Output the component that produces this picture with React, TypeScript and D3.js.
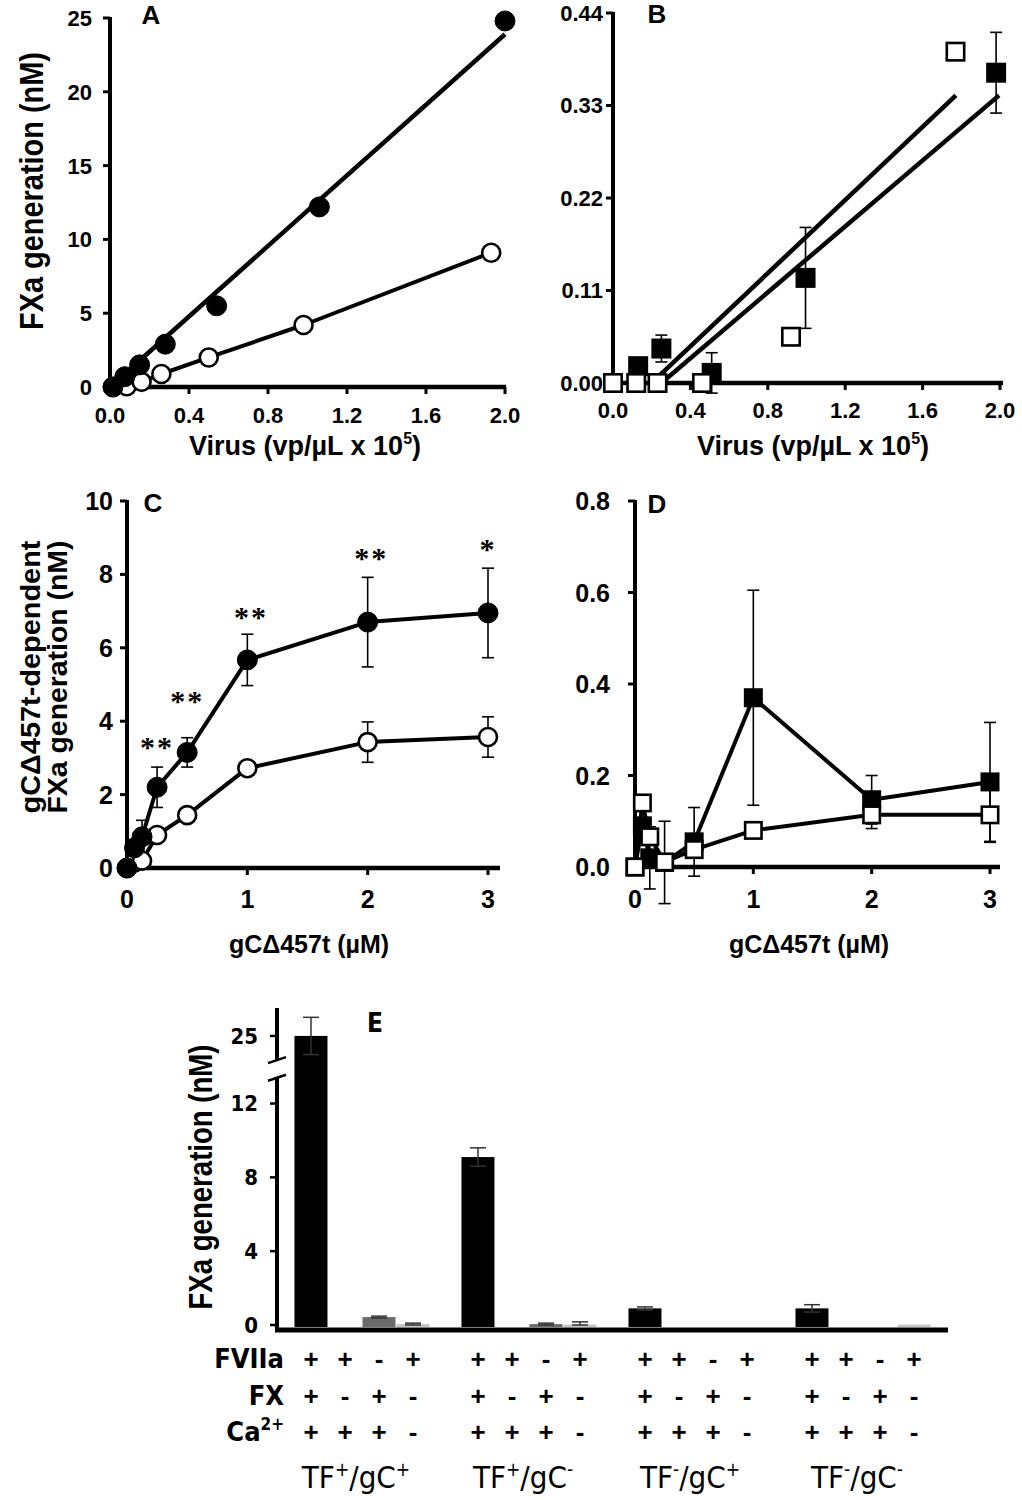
import React from 'react';
import * as d3 from 'd3';

// ---------- Panel A (virus, circles) ----------
const aFilledX = [0.015, 0.075, 0.15, 0.28, 0.54, 1.06, 2.0];
const aFilledY = [0, 0.7, 1.5, 2.9, 5.5, 12.2, 24.8];
const aOpenX = [0.015, 0.085, 0.16, 0.26, 0.5, 0.98, 1.93];
const aOpenY = [0, 0.05, 0.35, 0.88, 2.0, 4.2, 9.1];
const aFitFilled = [0, 2.0, 11.95, 0]; // xStart, xEnd, slope, intercept
const aXTicks = [0, 0.4, 0.8, 1.2, 1.6, 2.0];
const aYTicks = [0, 5, 10, 15, 20, 25];

// ---------- Panel B (virus, squares) ----------
const bFilledX = [0, 0.13, 0.25, 0.51, 0.995, 1.98];
const bFilledY = [0, 0.02, 0.041, 0.012, 0.125, 0.369];
const bFilledErr = [0, 0.004, 0.016, 0.024, 0.06, 0.048];
const bOpenX = [0, 0.12, 0.23, 0.46, 0.92, 1.77];
const bOpenY = [0, 0, 0, 0, 0.055, 0.394];
const bFitOpen = [0.2, 1.772, 0.2176, -0.0435];
const bFitFilled = [0.25, 1.995, 0.196, -0.049];
const bXTicks = [0, 0.4, 0.8, 1.2, 1.6, 2.0];
const bYTicks = [0, 0.11, 0.22, 0.33, 0.44];

// ---------- Panel C (gC, circles) ----------
const cX = [0, 0.0625, 0.125, 0.25, 0.5, 1, 2, 3];
const cFilledY = [0, 0.55, 0.85, 2.2, 3.15, 5.67, 6.7, 6.95];
const cFilledErr = [0, 0, 0.45, 0.55, 0.4, 0.7, 1.22, 1.22];
const cOpenY = [0, 0.15, 0.2, 0.9, 1.44, 2.72, 3.43, 3.57];
const cOpenErr = [0, 0, 0, 0, 0, 0, 0.55, 0.55];
const cStarX = [0.25, 0.5, 1.03, 2.03, 3];
const cStarY = [3.4, 4.65, 6.95, 8.55, 8.8];
const cStarText = ['**', '**', '**', '**', '*'];
const cXTicks = [0, 1, 2, 3];
const cYTicks = [0, 2, 4, 6, 8, 10];

// ---------- Panel D (gC, squares) ----------
const dX = [0, 0.0625, 0.125, 0.25, 0.5, 1, 2, 3];
const dFilledY = [0, 0.09, 0.02, 0.01, 0.055, 0.37, 0.147, 0.186];
const dFilledErr = [0, 0, 0.068, 0.09, 0.075, 0.235, 0.053, 0.13];
const dOpenY = [0, 0.14, 0.066, 0.011, 0.038, 0.08, 0.114, 0.114];
const dOpenErr = [0, 0, 0, 0, 0, 0, 0.03, 0.06];
const dXTicks = [0, 1, 2, 3];
const dYTicks = [0, 0.2, 0.4, 0.6, 0.8];

// ---------- Panel E (bars) ----------
const eGroups = ['TF+/gC+', 'TF+/gC-', 'TF-/gC+', 'TF-/gC-'];
const eTF = ['+', '+', '-', '-'];
const eGC = ['+', '-', '+', '-'];
const eValues = [
  [25, 0, 0.43, 0.05],
  [9.1, 0, 0.05, 0.02],
  [0.9, 0, 0, 0],
  [0.9, 0, 0, 0.02],
];
const eErrors = [
  [1.0, 0, 0.05, 0.05],
  [0.5, 0, 0.05, 0.15],
  [0.08, 0, 0, 0],
  [0.2, 0, 0, 0],
];
const eColColors = ['#000', '#000', '#6b6b6b', '#c4c4c4'];
const eYTicks = [0, 4, 8, 12, 25];
const eBreak = [13.4, 23.7];
const eRowNames = ['FVIIa', 'FX', 'Ca'];
const eRowFVIIa = ['+', '+', '-', '+'];
const eRowFX = ['+', '-', '+', '-'];
const eRowCa = ['+', '+', '+', '-'];

const SANS = "'Liberation Sans', Arial, sans-serif";
const NARROW = "'Liberation Sans Narrow', 'DejaVu Sans Condensed', 'Liberation Sans', sans-serif";
const SERIF = "'Liberation Serif', 'Times New Roman', serif";

type Lin = d3.ScaleLinear<number, number>;

function Frame(p: {
  x: Lin; y: Lin; xTicks: number[]; yTicks: number[];
  fx: (v: number) => string; fy: (v: number) => string;
  fs: number; yLabRight: number; xLabBase: number; xEnd: number;
}) {
  const x0 = p.x.range()[0];
  const y0 = p.y.range()[0];
  const yTop = p.y.range()[1];
  return (
    <g>
      <line x1={x0} x2={x0} y1={yTop - 1} y2={y0 + 2} stroke="#000" strokeWidth={4} />
      <line x1={x0 - 2} x2={p.xEnd} y1={y0} y2={y0} stroke="#000" strokeWidth={4.5} />
      {p.yTicks.map((t) => (
        <g key={'y' + t}>
          <line x1={x0 - 7} x2={x0} y1={p.y(t)} y2={p.y(t)} stroke="#000" strokeWidth={3} />
          <text x={p.yLabRight} y={p.y(t)} dy="0.36em" textAnchor="end" fontSize={p.fs} fontWeight="bold" fontFamily={SANS}>
            {p.fy(t)}
          </text>
        </g>
      ))}
      {p.xTicks.map((t) => (
        <g key={'x' + t}>
          <line x1={p.x(t)} x2={p.x(t)} y1={y0} y2={y0 + 7} stroke="#000" strokeWidth={3} />
          <text x={p.x(t)} y={p.xLabBase} textAnchor="middle" fontSize={p.fs} fontWeight="bold" fontFamily={SANS}>
            {p.fx(t)}
          </text>
        </g>
      ))}
    </g>
  );
}

function SeriesLine({ x, y, xs, ys }: { x: Lin; y: Lin; xs: number[]; ys: number[] }) {
  const pts = xs.map((v, i) => [v, ys[i]] as [number, number]);
  const line = d3.line<[number, number]>().x((d) => x(d[0])).y((d) => y(d[1]));
  return <path d={line(pts) || ''} fill="none" stroke="#000" strokeWidth={4} strokeLinejoin="round" />;
}

function FitLine({ x, y, fit }: { x: Lin; y: Lin; fit: number[] }) {
  const [xs, xe, m, b] = fit;
  const pts: [number, number][] = [[xs, m * xs + b], [xe, m * xe + b]];
  const line = d3.line<[number, number]>().x((d) => x(d[0])).y((d) => y(d[1]));
  return <path d={line(pts) || ''} fill="none" stroke="#000" strokeWidth={4.5} />;
}

function ErrBars({ x, y, xs, ys, es, cap = 6 }: { x: Lin; y: Lin; xs: number[]; ys: number[]; es: number[]; cap?: number }) {
  return (
    <g stroke="#000" strokeWidth={1.6}>
      {xs.map((v, i) =>
        es[i] > 0 ? (
          <g key={i}>
            <line x1={x(v)} x2={x(v)} y1={y(ys[i] - es[i])} y2={y(ys[i] + es[i])} />
            <line x1={x(v) - cap} x2={x(v) + cap} y1={y(ys[i] + es[i])} y2={y(ys[i] + es[i])} />
            <line x1={x(v) - cap} x2={x(v) + cap} y1={y(ys[i] - es[i])} y2={y(ys[i] - es[i])} />
          </g>
        ) : null
      )}
    </g>
  );
}

function Circles({ x, y, xs, ys, filled }: { x: Lin; y: Lin; xs: number[]; ys: number[]; filled: boolean }) {
  return (
    <g>
      {xs.map((v, i) => (
        <circle key={i} cx={x(v)} cy={y(ys[i])} r={filled ? 10 : 9} fill={filled ? '#000' : '#fff'} stroke="#000" strokeWidth={filled ? 1 : 2.6} />
      ))}
    </g>
  );
}

function Squares({ x, y, xs, ys, filled, s = 19 }: { x: Lin; y: Lin; xs: number[]; ys: number[]; filled: boolean; s?: number }) {
  const h = filled ? s / 2 : (s - 2.6) / 2;
  return (
    <g>
      {xs.map((v, i) => (
        <rect key={i} x={x(v) - h} y={y(ys[i]) - h} width={2 * h} height={2 * h} fill={filled ? '#000' : '#fff'} stroke="#000" strokeWidth={filled ? 0 : 2.6} />
      ))}
    </g>
  );
}

function VLabel({ x, y, text, fs, len }: { x: number; y: number; text: string; fs: number; len: number }) {
  return (
    <text transform={`translate(${x},${y}) rotate(-90)`} textAnchor="middle" fontSize={fs} fontWeight="bold" fontFamily={SANS} textLength={len} lengthAdjust="spacingAndGlyphs">
      {text}
    </text>
  );
}

function VirusLabel({ cx, base }: { cx: number; base: number }) {
  return (
    <text x={cx} y={base} textAnchor="middle" fontSize={27} fontWeight="bold" fontFamily={SANS}>
      Virus (vp/µL x 10
      <tspan fontSize={16} dy={-11}>5</tspan>
      <tspan dy={11}>)</tspan>
    </text>
  );
}

export default function App() {
  // scales
  const ax = d3.scaleLinear([0, 2], [110, 505]);
  const ay = d3.scaleLinear([0, 25], [387, 18]);
  const bx = d3.scaleLinear([0, 2], [613, 1000]);
  const by = d3.scaleLinear([0, 0.44], [383, 13]);
  const cx = d3.scaleLinear([0, 3], [127, 488]);
  const cy = d3.scaleLinear([0, 10], [868, 501]);
  const dx = d3.scaleLinear([0, 3], [635, 990]);
  const dy = d3.scaleLinear([0, 0.8], [867, 501]);

  const eg = d3.scaleBand<string>(eGroups, [278.5, 946.5]);
  const ec = d3.scaleBand<number>([0, 1, 2, 3], [0, eg.bandwidth()]).paddingInner(0.03).paddingOuter(0.47);
  const ey = d3.scaleLinear([0, 13.6, 23.6, 26.5], [1325, 1074, 1062, 1008]);
  const eAxisX = 277;
  const eBase = 1330;

  const f1 = d3.format('.1f');
  const f2 = d3.format('.2f');
  const f0 = d3.format('d');

  const rows = [eRowFVIIa, eRowFX, eRowCa];
  const rowBase = [1368, 1405, 1441];

  return (
    <div style={{ position: 'absolute', left: 0, top: 0 }}>
      <svg width={1022} height={1500} style={{ display: 'block', background: '#fff' }} fontFamily={SANS}>
        <rect x={0} y={0} width={1022} height={1500} fill="#fff" />

        {/* ===== Panel A ===== */}
        <Frame x={ax} y={ay} xTicks={aXTicks} yTicks={aYTicks} fx={f1} fy={f0} fs={22} yLabRight={92} xLabBase={423} xEnd={506} />
        <VLabel x={43} y={191} text="FXa generation (nM)" fs={33} len={278} />
        <VirusLabel cx={305} base={455} />
        <text x={151} y={24} textAnchor="middle" fontSize={26} fontWeight="bold">A</text>
        <SeriesLine x={ax} y={ay} xs={aOpenX} ys={aOpenY} />
        <FitLine x={ax} y={ay} fit={aFitFilled} />
        <Circles x={ax} y={ay} xs={aOpenX} ys={aOpenY} filled={false} />
        <Circles x={ax} y={ay} xs={aFilledX} ys={aFilledY} filled={true} />

        {/* ===== Panel B ===== */}
        <Frame x={bx} y={by} xTicks={bXTicks} yTicks={bYTicks} fx={f1} fy={f2} fs={22} yLabRight={603} xLabBase={418} xEnd={1003} />
        <VirusLabel cx={813} base={455} />
        <text x={657} y={23} textAnchor="middle" fontSize={26} fontWeight="bold">B</text>
        <ErrBars x={bx} y={by} xs={bFilledX} ys={bFilledY} es={bFilledErr} />
        <FitLine x={bx} y={by} fit={bFitOpen} />
        <FitLine x={bx} y={by} fit={bFitFilled} />
        <Squares x={bx} y={by} xs={bFilledX} ys={bFilledY} filled={true} s={20} />
        <Squares x={bx} y={by} xs={bOpenX} ys={bOpenY} filled={false} s={20} />

        {/* ===== Panel C ===== */}
        <Frame x={cx} y={cy} xTicks={cXTicks} yTicks={cYTicks} fx={f0} fy={f0} fs={25} yLabRight={113} xLabBase={908} xEnd={500} />
        <VLabel x={40} y={677} text="gCΔ457t-dependent" fs={27} len={273} />
        <VLabel x={67} y={677} text="FXa generation (nM)" fs={27} len={273} />
        <text x={309} y={953} textAnchor="middle" fontSize={25} fontWeight="bold">gCΔ457t (µM)</text>
        <text x={153} y={512} textAnchor="middle" fontSize={26} fontWeight="bold">C</text>
        <ErrBars x={cx} y={cy} xs={cX} ys={cFilledY} es={cFilledErr} />
        <ErrBars x={cx} y={cy} xs={cX} ys={cOpenY} es={cOpenErr} />
        <SeriesLine x={cx} y={cy} xs={cX} ys={cOpenY} />
        <SeriesLine x={cx} y={cy} xs={cX} ys={cFilledY} />
        <Circles x={cx} y={cy} xs={cX} ys={cOpenY} filled={false} />
        <Circles x={cx} y={cy} xs={cX} ys={cFilledY} filled={true} />
        {cStarX.map((v, i) => (
          <text key={i} x={cx(v)} y={cy(cStarY[i]) + 14} textAnchor="middle" fontSize={30} fontWeight="bold" fontFamily={SERIF} letterSpacing={2}>
            {cStarText[i]}
          </text>
        ))}

        {/* ===== Panel D ===== */}
        <Frame x={dx} y={dy} xTicks={dXTicks} yTicks={dYTicks} fx={f0} fy={f1} fs={25} yLabRight={610} xLabBase={908} xEnd={1000} />
        <text x={809} y={953} textAnchor="middle" fontSize={25} fontWeight="bold">gCΔ457t (µM)</text>
        <text x={657} y={513} textAnchor="middle" fontSize={26} fontWeight="bold">D</text>
        <ErrBars x={dx} y={dy} xs={dX} ys={dFilledY} es={dFilledErr} />
        <ErrBars x={dx} y={dy} xs={dX} ys={dOpenY} es={dOpenErr} />
        <SeriesLine x={dx} y={dy} xs={dX} ys={dOpenY} />
        <SeriesLine x={dx} y={dy} xs={dX} ys={dFilledY} />
        <Squares x={dx} y={dy} xs={dX} ys={dFilledY} filled={true} s={19} />
        <Squares x={dx} y={dy} xs={dX} ys={dOpenY} filled={false} s={19} />

        {/* ===== Panel E ===== */}
        <VLabel x={212} y={1177} text="FXa generation (nM)" fs={33} len={265} />
        <text x={375} y={1032} textAnchor="middle" fontSize={26} fontFamily={NARROW} fontWeight="bold">E</text>
        {eValues.map((grp, gi) =>
          grp.map((v, ci) => {
            const bx0 = (eg(eGroups[gi]) || 0) + (ec(ci) || 0);
            const w = ec.bandwidth();
            if (v <= 0) return null;
            const top = ey(v);
            const e = eErrors[gi][ci];
            const mid = bx0 + w / 2;
            return (
              <g key={gi + '-' + ci}>
                <rect x={bx0} y={top} width={w} height={Math.max(1.5, eBase - 3 - top)} fill={eColColors[ci]} />
                {e > 0 ? (
                  <g stroke="#333" strokeWidth={1.5}>
                    <line x1={mid} x2={mid} y1={ey(v + e)} y2={ey(Math.max(0, v - e))} />
                    <line x1={mid - 8} x2={mid + 8} y1={ey(v + e)} y2={ey(v + e)} />
                    <line x1={mid - 8} x2={mid + 8} y1={ey(Math.max(0, v - e))} y2={ey(Math.max(0, v - e))} />
                  </g>
                ) : null}
              </g>
            );
          })
        )}
        <line x1={eAxisX} x2={eAxisX} y1={ey(eBreak[0])} y2={eBase} stroke="#000" strokeWidth={4} />
        <line x1={eAxisX} x2={eAxisX} y1={ey(26.5)} y2={ey(eBreak[1])} stroke="#000" strokeWidth={4} />
        {eBreak.map((b, i) => (
          <line key={i} x1={eAxisX - 9} x2={eAxisX + 9} y1={ey(b) + 3} y2={ey(b) - 3} stroke="#000" strokeWidth={2.5} />
        ))}
        {eYTicks.map((t) => (
          <g key={t}>
            <line x1={eAxisX - 7} x2={eAxisX} y1={ey(t)} y2={ey(t)} stroke="#000" strokeWidth={2.5} />
            <text x={258} y={ey(t)} dy="0.36em" textAnchor="end" fontSize={22} fontFamily={NARROW} fontWeight="bold">
              {t}
            </text>
          </g>
        ))}
        <line x1={eAxisX - 2} x2={948} y1={eBase} y2={eBase} stroke="#000" strokeWidth={5} />

        {eRowNames.map((n, ri) => (
          <text key={n} x={284} y={rowBase[ri]} textAnchor="end" fontSize={27} fontFamily={NARROW} fontWeight="bold">
            {n}
            {n === 'Ca' ? <tspan fontSize={17} dy={-11}>2+</tspan> : null}
          </text>
        ))}
        {rows.map((row, ri) =>
          eGroups.map((g) =>
            row.map((s, ci) => (
              <text key={ri + g + ci} x={(eg(g) || 0) + (ec(ci) || 0) + ec.bandwidth() / 2} y={rowBase[ri]} textAnchor="middle" fontSize={26} fontWeight="bold" fontFamily={SANS}>
                {s}
              </text>
            ))
          )
        )}
        {eGroups.map((g, gi) => (
          <text key={g} x={(eg(g) || 0) + eg.bandwidth() / 2 - 6} y={1488} textAnchor="middle" fontSize={31} fontFamily={NARROW}>
            TF<tspan fontSize={19} dy={-12}>{eTF[gi]}</tspan>
            <tspan dy={12}>/gC</tspan>
            <tspan fontSize={19} dy={-12}>{eGC[gi]}</tspan>
          </text>
        ))}
      </svg>
    </div>
  );
}
